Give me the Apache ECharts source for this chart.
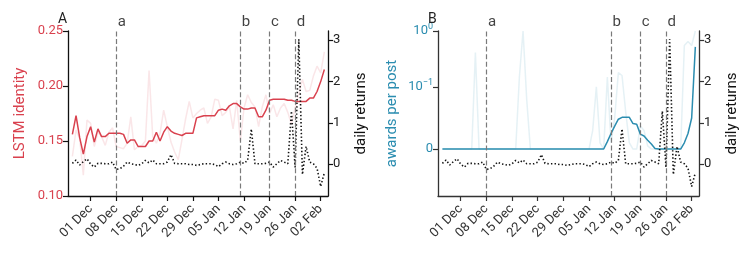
<!DOCTYPE html>
<html>
<head>
<meta charset="utf-8">
<script src="https://cdn.jsdelivr.net/npm/echarts@6/dist/echarts.min.js"></script>
<style>
html,body{margin:0;padding:0;background:#fff;}
#chart{width:747px;height:276px;}
</style>
</head>
<body>
<div id="chart"></div>
<script>
// ---- data (one value per day, first day = 26 Nov, last = 03 Feb) ----
const startOffset = -5; // first day relative to 01 Dec
const tickLabels = ['01 Dec','08 Dec','15 Dec','22 Dec','29 Dec','05 Jan','12 Jan','19 Jan','26 Jan','02 Feb'];
const tickDays = [0,7,14,21,28,35,42,49,56,63];
const eventNames = ['a','b','c','d'];
const eventDays = [7,41,49,56];

const lstmRaw = [0.136,0.160,0.152,0.119,0.169,
 0.166,0.145,0.158,0.154,0.146,0.158,0.162,0.145,0.144,0.143,
 0.148,0.172,0.142,0.145,0.146,0.150,0.214,0.154,0.148,0.157,
 0.178,0.163,0.149,0.140,0.133,0.151,0.170,0.186,0.171,0.175,
 0.178,0.180,0.166,0.172,0.188,0.187,0.173,0.176,0.181,0.161,
 0.187,0.150,0.180,0.192,0.185,0.181,0.163,0.181,0.192,0.175,
 0.183,0.172,0.180,0.184,0.176,0.165,0.180,0.193,0.206,0.195,
 0.196,0.209,0.218,0.212,0.231];
const lstmSmooth = [0.156,0.173,0.153,0.138,0.154,
 0.163,0.149,0.161,0.154,0.154,0.157,0.157,0.157,0.157,0.156,
 0.148,0.151,0.151,0.145,0.145,0.145,0.150,0.150,0.158,0.150,
 0.158,0.163,0.159,0.157,0.156,0.155,0.157,0.157,0.157,0.171,
 0.172,0.173,0.173,0.173,0.173,0.178,0.179,0.178,0.182,0.184,
 0.184,0.181,0.179,0.179,0.180,0.180,0.172,0.172,0.178,0.187,
 0.188,0.188,0.188,0.188,0.187,0.187,0.186,0.186,0.186,0.186,
 0.189,0.189,0.195,0.204,0.215];
const dailyReturns = [0.02,0.10,-0.02,0.06,0.13,
 0.00,-0.07,0.02,0.02,0.01,0.01,0.05,-0.13,-0.11,-0.05,
 0.05,0.01,-0.01,-0.03,0.01,0.09,0.03,0.10,0.01,0.01,
 0.01,0.05,0.23,0.02,0.01,0.01,0.01,-0.01,-0.01,-0.03,
 -0.01,0.01,0.01,0.01,-0.01,-0.06,0.01,0.05,0.01,-0.01,
 0.01,0.05,0.02,0.09,0.85,0.01,0.01,0.01,0.02,0.05,
 -0.07,0.01,0.09,0.05,0.01,1.28,-0.08,3.02,-0.25,0.43,
 0.05,0.01,-0.10,-0.54,-0.21];
const awardsRaw = [0,0,0,0,0,
 0,0,0,0,0.41,0,0,0,0,0,
 0,0,0,0,0,0,0.15,1.0,0.08,0,
 0,0,0,0,0,0,0,0,0,0,
 0,0,0,0,0,0,0.03,0.10,0.01,0,
 0.15,0.01,0.05,0.18,0.16,0.06,0.01,0,0,0.037,
 0.03,0.005,0,0,0,0,0,0,0,0,
 0,0.55,0.65,0.55,1.0];
const awardsSmooth = [0,0,0,0,0,
 0,0,0,0,0,0,0,0,0,0,
 0,0,0,0,0,0,0,0,0,0,
 0,0,0,0,0,0,0,0,0,0,
 0,0,0,0,0,0,0,0,0,0,
 0.012,0.025,0.037,0.048,0.051,0.051,0.051,0.041,0.040,0.024,
 0.021,0.014,0.008,0.001,0,0,0,0,0,0,
 0,0.010,0.025,0.050,0.52];

// ---- helpers ----
function symlog(v){ const t=0.1, ls=1/(1-1/10); const a=Math.abs(v);
  return a<=t ? v/t*ls : Math.sign(v)*(ls+Math.log10(a/t)); }
const pairs = (arr, f) => arr.map((v,i)=>[i+startOffset, f ? f(v) : v]);

const FONT = 'Roboto';
const RED = '#d9414e', PINK = 'rgba(217,65,78,0.13)';
const BLUE = '#2b8db0', LBLUE = 'rgba(43,141,176,0.12)';
const DASH = {type:[5,2.6], color:'#7a7a7a', width:1.2};

function xAxis(gi, color){
  return {type:'value', gridIndex:gi, min:-6.2, max:65,
    axisLine:{show:true, onZero:false, lineStyle:{color:color, width:1.3}},
    axisTick:{show:true, customValues:tickDays, length:5, lineStyle:{color:color, width:1.2}},
    axisLabel:{customValues:tickDays, rotate:45, margin:11, fontSize:13, color:'#333', fontFamily:FONT,
      formatter:v=>tickLabels[tickDays.indexOf(v)]},
    splitLine:{show:false}};
}
function rightAxis(gi, color){
  return {type:'value', gridIndex:gi, position:'right', min:-0.77, max:3.22,
    axisLine:{show:true, onZero:false, lineStyle:{color:color, width:1.3}},
    axisTick:{show:true, customValues:[0,1,2,3], length:5, lineStyle:{color:color, width:1.2}},
    axisLabel:{customValues:[0,1,2,3], margin:5, fontSize:13, color:'#222', fontFamily:FONT},
    splitLine:{show:false},
    name:'daily returns', nameLocation:'middle', nameGap:26,
    nameTextStyle:{fontSize:15, color:'#111', fontFamily:FONT}};
}
const T1 = symlog(0.1), T0 = symlog(1);

const option = {
  animation:false,
  textStyle:{fontFamily:FONT},
  title:[
    {text:'A', left:53, top:7, textStyle:{fontSize:14, fontWeight:'normal', color:'#222', fontFamily:FONT}},
    {text:'B', left:423, top:7, textStyle:{fontSize:14, fontWeight:'normal', color:'#222', fontFamily:FONT}}
  ],
  grid:[{left:68, top:31, width:260, height:165},{left:438, top:31, width:261, height:165}],
  xAxis:[xAxis(0,'#111'), xAxis(1,'#333')],
  yAxis:[
    {type:'value', gridIndex:0, position:'left', min:0.10, max:0.25, interval:0.05,
     axisLine:{show:true, onZero:false, lineStyle:{color:'#111', width:1.3}},
     axisTick:{show:true, length:5, lineStyle:{color:'#111', width:1.2}},
     axisLabel:{fontSize:13, color:RED, margin:5, fontFamily:FONT, formatter:v=>v.toFixed(2)},
     splitLine:{show:false},
     name:'LSTM identity', nameLocation:'middle', nameGap:40,
     nameTextStyle:{fontSize:15, color:RED, fontFamily:FONT}},
    rightAxis(0,'#111'),
    {type:'value', gridIndex:1, position:'left', min:-0.84, max:T0,
     axisLine:{show:true, onZero:false, lineStyle:{color:'#333', width:1.3}},
     axisTick:{show:true, customValues:[0,T1,T0], length:5, lineStyle:{color:'#333', width:1.2}},
     axisLabel:{customValues:[0,T1,T0], margin:5, fontFamily:FONT,
       formatter:function(v){ if(Math.abs(v)<1e-9) return '{n|0}';
         if(Math.abs(v-T1)<1e-6) return '{n|10}{s|−1}'; return '{n|10}{s|0}'; },
       rich:{n:{fontSize:13, color:BLUE, fontFamily:FONT},
             s:{fontSize:9, color:BLUE, fontFamily:FONT, padding:[0,0,8,0]}}},
     splitLine:{show:false},
     name:'awards per post', nameLocation:'middle', nameGap:38,
     nameTextStyle:{fontSize:15, color:BLUE, fontFamily:FONT}},
    rightAxis(1,'#333')
  ],
  series:[
    {type:'line', xAxisIndex:0, yAxisIndex:0, data:pairs(lstmRaw), symbol:'none', lineStyle:{color:PINK, width:1.5}, z:1},
    {type:'line', xAxisIndex:0, yAxisIndex:0, data:pairs(lstmSmooth), symbol:'none', lineStyle:{color:RED, width:1.5}, z:2},
    {type:'line', xAxisIndex:0, yAxisIndex:1, data:pairs(dailyReturns), symbol:'none', lineStyle:{color:'#111', width:1.6, type:[1.4,2.2]}, z:3,
     markLine:{silent:true, symbol:['none','none'], label:{show:false}, lineStyle:DASH, data:eventDays.map(d=>({xAxis:d}))}},
    {type:'scatter', xAxisIndex:0, yAxisIndex:0, symbolSize:1, itemStyle:{color:'rgba(0,0,0,0)'},
     data:eventDays.map((d,i)=>({value:[d,0.25], name:eventNames[i]})),
     label:{show:true, formatter:'{b}', position:[2,-16], fontSize:15, color:'#111', fontFamily:FONT}},

    {type:'line', xAxisIndex:1, yAxisIndex:2, data:pairs(awardsRaw, symlog), symbol:'none', lineStyle:{color:LBLUE, width:1.5}, z:1},
    {type:'line', xAxisIndex:1, yAxisIndex:2, data:pairs(awardsSmooth, symlog), symbol:'none', lineStyle:{color:BLUE, width:1.5}, z:2},
    {type:'line', xAxisIndex:1, yAxisIndex:3, data:pairs(dailyReturns), symbol:'none', lineStyle:{color:'#111', width:1.6, type:[1.4,2.2]}, z:3,
     markLine:{silent:true, symbol:['none','none'], label:{show:false}, lineStyle:DASH, data:eventDays.map(d=>({xAxis:d}))}},
    {type:'scatter', xAxisIndex:1, yAxisIndex:2, symbolSize:1, itemStyle:{color:'rgba(0,0,0,0)'},
     data:eventDays.map((d,i)=>({value:[d,T0], name:eventNames[i]})),
     label:{show:true, formatter:'{b}', position:[2,-16], fontSize:15, color:'#111', fontFamily:FONT}}
  ]
};
const chart = echarts.init(document.getElementById('chart'), null, {renderer:'canvas'});
chart.setOption(option);
</script>
</body>
</html>
